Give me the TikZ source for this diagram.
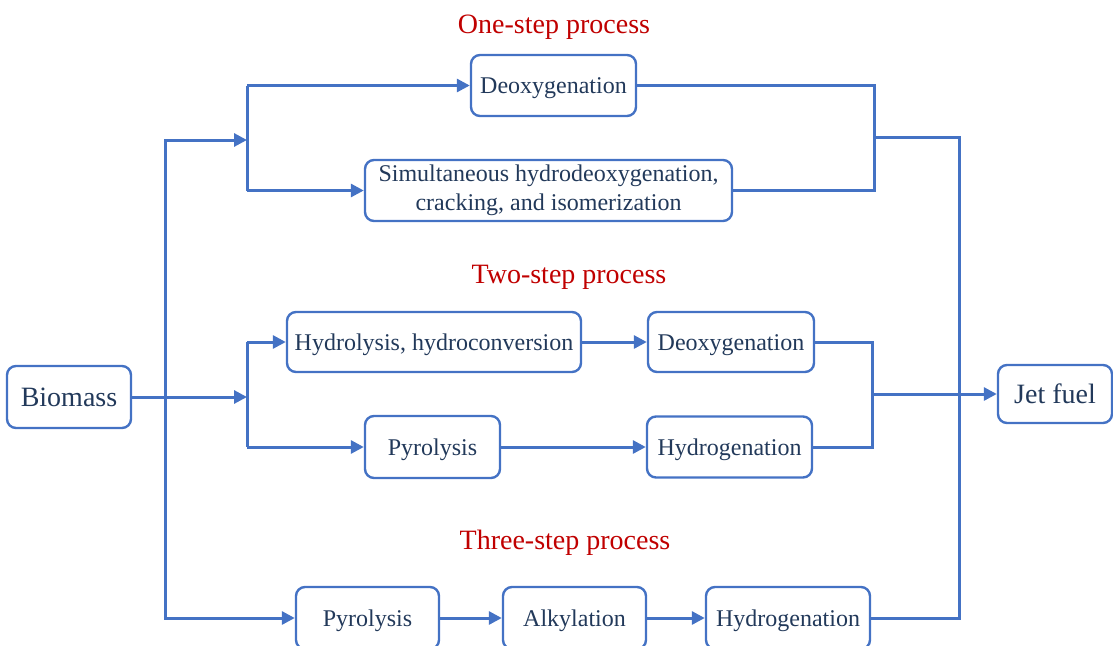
\documentclass[tikz,border=0pt]{standalone}
\usepackage{fontspec}
\setmainfont{Liberation Serif}
\usetikzlibrary{arrows.meta}
\definecolor{lineblue}{HTML}{4472C4}
\definecolor{txtblue}{HTML}{22395A}
\definecolor{titlered}{HTML}{C00000}
\begin{document}
\begin{tikzpicture}[x=1pt,y=-1pt,
  procbox/.style={draw=lineblue,line width=2.4pt,rounded corners=9pt,text=txtblue,
    font=\fontsize{24}{29}\selectfont,inner sep=0pt,align=center},
  onebox/.style={procbox,text height=21pt,text depth=5pt},
  bigbox/.style={procbox,font=\fontsize{28}{32}\selectfont,text height=24pt,text depth=6pt},
  ptitle/.style={text=titlered,font=\fontsize{28}{32}\selectfont,inner sep=0pt},
  conn/.style={draw=lineblue,line width=3pt},
  arr/.style={conn,-{Triangle[length=13pt,width=13pt]}}]
\useasboundingbox (0,0) rectangle (1113,645);
% titles
\node[ptitle] (t1) at (554,27) {One-step process};
\node[ptitle] (t2) at (569,277) {Two-step process};
\node[ptitle] (t3) at (565,543) {Three-step process};
% boxes
\node[bigbox,minimum width=124pt,minimum height=62pt] (bio) at (69,397) {Biomass};
\node[bigbox,minimum width=114pt,minimum height=58pt] (jet) at (1055,394) {Jet fuel};
\node[onebox,minimum width=165pt,minimum height=61pt] (deox1) at (553.5,85.5) {Deoxygenation};
\node[procbox,minimum width=367pt,minimum height=61pt] (simul) at (548.5,190.5) {Simultaneous hydrodeoxygenation,\\cracking, and isomerization};
\node[onebox,minimum width=294pt,minimum height=60pt] (hydro) at (434,342) {Hydrolysis, hydroconversion};
\node[onebox,minimum width=166pt,minimum height=60pt] (deox2) at (731,342) {Deoxygenation};
\node[onebox,minimum width=135pt,minimum height=62pt] (pyro1) at (432.5,447) {Pyrolysis};
\node[onebox,minimum width=165pt,minimum height=61pt] (hyd2) at (729.5,447) {Hydrogenation};
\node[onebox,minimum width=143pt,minimum height=62pt] (pyro2) at (367.5,618) {Pyrolysis};
\node[onebox,minimum width=143pt,minimum height=62pt] (alky) at (574.5,618) {Alkylation};
\node[onebox,minimum width=164pt,minimum height=62pt] (hyd3) at (788,618) {Hydrogenation};
% junction coordinates
\coordinate (jb) at (247,397);
\coordinate (jl) at (165,397);
\coordinate (j1) at (247,140);
\coordinate (jr1) at (874,137);
\coordinate (jr2) at (872,394);
\coordinate (jr) at (959,137);
% Biomass to two-step branch
\draw[arr] (bio.east) -- (jb);
\draw[conn] (jb |- hydro.west) -- (jb |- pyro1.west);
\draw[arr] (jb |- hydro.west) -- (hydro.west);
\draw[arr] (jb |- pyro1.west) -- (pyro1.west);
% left trunk
\draw[arr] (jl) -- (jl |- j1) -- (j1);
\draw[arr] (jl) -- (jl |- pyro2.west) -- (pyro2.west);
% one-step branch
\draw[conn] (j1 |- deox1.west) -- (j1 |- simul.west);
\draw[arr] (j1 |- deox1.west) -- (deox1.west);
\draw[arr] (j1 |- simul.west) -- (simul.west);
% chains
\draw[arr] (hydro.east) -- (deox2.west);
\draw[arr] (pyro1.east) -- (hyd2.west);
\draw[arr] (pyro2.east) -- (alky.west);
\draw[arr] (alky.east) -- (hyd3.west);
% merges one-step
\draw[conn] (deox1.east) -- (jr1 |- deox1.east) -- (jr1 |- simul.east) -- (simul.east);
\draw[conn] (jr1) -- (jr) -- (jr |- hyd3.east) -- (hyd3.east);
% merges two-step
\draw[conn] (deox2.east) -- (jr2 |- deox2.east) -- (jr2 |- hyd2.east) -- (hyd2.east);
\draw[arr] (jr2) -- (jet.west);
\end{tikzpicture}
\end{document}
